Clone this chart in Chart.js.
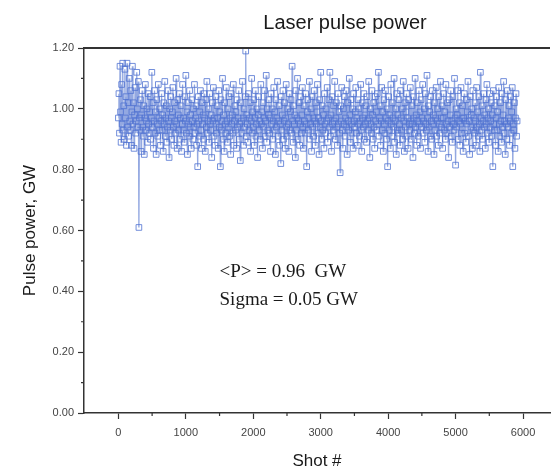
<!DOCTYPE html>
<html>
<head>
<meta charset="utf-8">
<script src="https://cdn.jsdelivr.net/npm/chart.js@4"></script>
<style>
  html, body { margin: 0; padding: 0; background: #fff; }
</style>
</head>
<body>
<canvas id="pulseChart" width="555" height="476"></canvas>
<script>
// one value every SHOT_STEP shots
var SHOT_STEP = 8;
var power = [
    0.97, 1.05, 0.92, 1.14, 0.99, 0.89, 1.08, 0.95, 1.15, 0.93, 1.01, 0.90, 1.13, 0.97, 1.04, 0.88, 1.15, 0.94, 1.02, 0.91,
    1.10, 0.96, 0.93, 1.06, 0.88, 0.99, 1.14, 0.95, 1.02, 0.87, 0.98, 1.07, 0.92, 0.96, 1.12, 1.00, 0.94, 1.09, 0.61, 0.97,
    0.93, 1.03, 0.86, 0.98, 1.06, 0.94, 0.91, 1.01, 0.85, 0.97, 1.08, 0.93, 0.96, 1.00, 0.89, 1.05, 0.95, 0.92, 0.99, 1.04,
    0.90, 0.97, 1.12, 0.94, 1.02, 0.87, 0.96, 1.06, 0.92, 0.99, 0.85, 1.03, 0.95, 0.91, 1.08, 0.97, 0.93, 1.00, 0.88, 0.96,
    1.05, 0.93, 0.98, 0.86, 1.02, 0.95, 1.09, 0.91, 0.97, 1.01, 0.89, 0.94, 1.06, 0.96, 0.84, 1.00, 0.93, 1.04, 0.97, 0.90,
    0.99, 1.07, 0.94, 0.88, 1.02, 0.96, 0.92, 1.10, 0.95, 0.87, 1.03, 0.98, 0.93, 1.05, 0.90, 0.97, 1.01, 0.86, 0.95, 1.08,
    0.93, 0.97, 0.89, 1.04, 0.96, 1.11, 0.92, 0.99, 0.85, 1.02, 0.95, 0.91, 1.06, 0.94, 0.98, 0.87, 1.03, 0.96, 0.90, 1.00,
    0.94, 1.08, 0.92, 0.97, 1.01, 0.88, 0.95, 0.81, 1.04, 0.96, 0.91, 0.99, 1.06, 0.93, 0.87, 1.02, 0.95, 0.98, 0.90, 1.05,
    0.97, 0.86, 1.03, 0.94, 1.09, 0.92, 0.96, 1.00, 0.89, 1.05, 0.95, 0.93, 0.98, 0.84, 1.02, 0.96, 1.07, 0.91, 0.97, 0.88,
    1.04, 0.95, 0.92, 1.01, 0.97, 0.87, 1.06, 0.94, 0.99, 0.81, 1.03, 0.93, 0.96, 1.10, 0.90, 0.98, 0.86, 1.02, 0.95, 0.92,
    1.07, 0.96, 0.89, 1.00, 0.94, 1.04, 0.91, 0.97, 0.85, 1.05, 0.95, 0.98, 0.92, 1.08, 0.88, 0.96, 1.01, 0.93, 0.99, 0.87,
    1.03, 0.94, 0.97, 1.06, 0.90, 0.95, 0.83, 1.02, 0.96, 0.92, 1.09, 0.97, 0.88, 1.00, 0.94, 1.04, 1.19, 0.91, 0.98, 0.95,
    0.89, 1.05, 0.93, 0.97, 1.02, 0.86, 0.96, 1.10, 0.92, 0.99, 0.94, 1.03, 0.88, 0.97, 1.06, 0.91, 0.95, 1.00, 0.84, 0.98,
    1.04, 0.93, 0.96, 0.90, 1.08, 0.95, 0.99, 0.87, 1.02, 0.94, 0.97, 1.06, 0.91, 0.96, 1.11, 0.89, 1.00, 0.93, 0.98, 1.03,
    0.92, 0.97, 0.86, 1.05, 0.95, 1.00, 0.90, 0.96, 1.07, 0.93, 0.99, 0.85, 1.03, 0.94, 0.97, 1.09, 0.91, 0.96, 1.01, 0.88,
    0.95, 0.82, 1.04, 0.93, 0.98, 1.06, 0.90, 0.96, 1.02, 0.87, 0.97, 1.08, 0.94, 0.91, 1.00, 0.95, 0.86, 1.05, 0.93, 0.99,
    1.03, 0.92, 1.14, 0.96, 0.89, 1.01, 0.95, 0.98, 0.84, 1.06, 0.93, 0.97, 1.10, 0.90, 0.96, 1.02, 0.88, 0.95, 1.04, 0.92,
    0.98, 1.07, 0.94, 0.87, 1.01, 0.96, 0.92, 1.05, 0.95, 0.81, 0.99, 1.03, 0.93, 0.97, 1.09, 0.90, 0.95, 1.00, 0.86, 1.04,
    0.94, 0.97, 0.91, 1.06, 0.96, 0.88, 1.02, 0.95, 0.99, 1.08, 0.92, 0.97, 0.85, 1.03, 0.94, 1.12, 0.96, 0.90, 1.01, 0.93,
    0.98, 0.87, 1.05, 0.95, 0.92, 1.00, 0.96, 1.07, 0.89, 0.97, 1.03, 0.94, 1.12, 0.91, 0.98, 0.86, 1.04, 0.95, 0.93, 1.01,
    0.96, 1.09, 0.90, 0.97, 1.02, 0.94, 0.88, 1.05, 0.95, 0.99, 0.92, 0.79, 1.01, 0.96, 1.07, 0.93, 0.87, 1.00, 0.95, 1.04,
    0.91, 0.97, 1.06, 0.94, 0.85, 1.02, 0.96, 0.93, 1.10, 0.98, 0.89, 1.03, 0.95, 0.92, 1.00, 0.87, 1.05, 0.96, 0.94, 0.99,
    1.07, 0.92, 0.97, 0.88, 1.03, 0.95, 1.00, 0.91, 0.96, 1.08, 0.93, 0.86, 1.02, 0.97, 0.94, 1.05, 0.90, 0.98, 0.95, 1.01,
    0.89, 1.04, 0.96, 0.93, 1.09, 0.97, 0.84, 1.00, 0.95, 0.92, 1.06, 0.98, 0.90, 1.02, 0.94, 0.87, 1.04, 0.96, 0.99, 0.93,
    1.05, 0.95, 1.12, 0.91, 0.97, 1.01, 0.88, 0.96, 1.07, 0.93, 0.99, 0.86, 1.03, 0.95, 0.92, 1.06, 0.97, 0.90, 1.00, 0.81,
    0.96, 1.04, 0.93, 0.98, 0.87, 1.08, 0.95, 0.91, 1.02, 0.97, 0.94, 1.10, 0.89, 0.96, 1.00, 0.85, 1.05, 0.93, 0.98, 0.92,
    1.03, 0.95, 0.88, 1.06, 0.97, 0.93, 1.00, 0.90, 1.09, 0.96, 0.86, 1.02, 0.94, 0.99, 1.05, 0.91, 0.97, 0.87, 1.03, 0.95,
    0.93, 1.07, 0.96, 0.90, 1.01, 0.95, 0.84, 1.04, 0.97, 0.92, 1.10, 0.94, 0.98, 0.88, 1.02, 0.96, 0.91, 1.06, 0.95, 0.99,
    0.87, 1.03, 0.94, 0.97, 1.08, 0.92, 0.96, 1.00, 0.89, 1.05, 0.95, 0.93, 1.11, 0.97, 0.86, 1.01, 0.94, 0.99, 0.91, 1.04,
    0.96, 0.90, 1.06, 0.95, 0.98, 0.85, 1.02, 0.93, 0.97, 1.07, 0.91, 0.96, 1.00, 0.88, 1.04, 0.95, 0.92, 1.09, 0.97, 0.94,
    1.01, 0.87, 0.97, 1.05, 0.93, 0.99, 0.90, 1.08, 0.95, 0.92, 1.02, 0.96, 0.84, 1.03, 0.94, 0.98, 1.06, 0.91, 0.96, 0.89,
    1.04, 0.95, 0.93, 1.10, 0.97, 0.815, 1.00, 0.94, 0.98, 1.06, 0.90, 0.96, 1.02, 0.88, 0.95, 1.07, 0.92, 0.97, 1.01, 0.86,
    0.97, 1.05, 0.92, 0.96, 0.89, 1.03, 0.95, 0.99, 1.09, 0.91, 0.96, 0.85, 1.04, 0.94, 0.98, 1.00, 0.87, 1.06, 0.93, 0.97,
    0.92, 1.02, 0.96, 0.88, 1.07, 0.94, 0.99, 0.91, 1.04, 0.95, 0.86, 1.12, 0.97, 0.93, 1.01, 0.90, 0.96, 1.05, 0.94, 0.98,
    0.87, 1.03, 0.95, 1.08, 0.92, 0.97, 1.00, 0.89, 1.05, 0.94, 0.96, 1.02, 0.91, 0.98, 0.81, 1.06, 0.95, 0.93, 1.01, 0.88,
    0.97, 1.04, 0.93, 0.99, 0.86, 1.07, 0.95, 0.91, 1.02, 0.96, 0.89, 1.05, 0.94, 0.98, 1.09, 0.92, 0.96, 0.85, 1.03, 0.95,
    0.90, 1.06, 0.94, 0.97, 1.01, 0.88, 0.96, 1.04, 0.92, 0.99, 1.07, 0.81, 0.95, 0.93, 1.02, 0.87, 0.97, 1.05, 0.91, 0.96
];
var xTicks = [0, 1000, 2000, 3000, 4000, 5000, 6000];
var xMinor = [500, 1500, 2500, 3500, 4500, 5500];
var yMinor = [0.1, 0.3, 0.5, 0.7, 0.9, 1.1];
var statLines = ["<P> = 0.96  GW", "Sigma = 0.05 GW"];

var points = power.map(function (v, i) { return { x: i * SHOT_STEP, y: v }; });

var decor = {
    id: "decor",
    afterDraw: function (chart) {
        var ctx = chart.ctx, a = chart.chartArea;
        var xs = chart.scales.x, ys = chart.scales.y;
        ctx.save();
        // top frame line
        ctx.strokeStyle = "#333";
        ctx.lineWidth = 2;
        ctx.beginPath();
        ctx.moveTo(a.left, a.top);
        ctx.lineTo(a.right, a.top);
        ctx.stroke();
        // minor ticks
        ctx.lineWidth = 1.2;
        ctx.beginPath();
        xMinor.forEach(function (v) {
            var px = xs.getPixelForValue(v);
            ctx.moveTo(px, a.bottom);
            ctx.lineTo(px, a.bottom + 3);
        });
        yMinor.forEach(function (v) {
            var py = ys.getPixelForValue(v);
            ctx.moveTo(a.left, py);
            ctx.lineTo(a.left - 3, py);
        });
        ctx.stroke();
        // title
        ctx.fillStyle = "#1a1a1a";
        ctx.font = "20px 'Liberation Sans', Arial, sans-serif";
        ctx.textAlign = "center";
        ctx.textBaseline = "middle";
        ctx.fillText("Laser pulse power", 345, 23);
        // statistics text
        ctx.font = "19px 'Liberation Serif', 'Times New Roman', serif";
        ctx.textAlign = "left";
        ctx.fillText(statLines[0], xs.getPixelForValue(1500), ys.getPixelForValue(0.463));
        ctx.fillText(statLines[1], xs.getPixelForValue(1500), ys.getPixelForValue(0.372));
        ctx.restore();
    }
};

new Chart("pulseChart", {
    type: "scatter",
    data: {
        datasets: [{
            data: points,
            showLine: true,
            borderWidth: 1.3,
            borderColor: "rgba(40, 82, 196, 0.5)",
            pointStyle: "rect",
            pointRadius: 4,
            pointBorderWidth: 1,
            pointBorderColor: "rgba(80, 115, 210, 0.8)",
            pointBackgroundColor: "rgba(0,0,0,0)"
        }]
    },
    options: {
        responsive: false,
        animation: false,
        layout: { padding: { top: 48, right: 0, left: 0, bottom: 0 } },
        plugins: {
            legend: { display: false },
            tooltip: { enabled: false }
        },
        scales: {
            x: {
                type: "linear",
                min: -510,
                max: 6400,
                afterBuildTicks: function (s) {
                    s.ticks = xTicks.map(function (v) { return { value: v }; });
                },
                afterFit: function (s) { s.height = 63; },
                ticks: {
                    color: "#444",
                    font: { size: 11, family: "'Liberation Sans', Arial, sans-serif" },
                    padding: 7,
                    callback: function (v) { return String(v); }
                },
                grid: { drawOnChartArea: false, tickLength: 6, tickColor: "#333", tickWidth: 1.2 },
                border: { color: "#333", width: 1.5 },
                title: {
                    display: true,
                    text: "Shot #",
                    color: "#1a1a1a",
                    font: { size: 17, family: "'Liberation Sans', Arial, sans-serif" },
                    padding: { top: 0, bottom: 4 }
                }
            },
            y: {
                min: 0,
                max: 1.2,
                afterFit: function (s) { s.width = 84; },
                ticks: {
                    stepSize: 0.2,
                    color: "#444",
                    font: { size: 11, family: "'Liberation Sans', Arial, sans-serif" },
                    padding: 4,
                    callback: function (v) { return v.toFixed(2); }
                },
                grid: { drawOnChartArea: false, tickLength: 6, tickColor: "#333", tickWidth: 1.2 },
                border: { color: "#333", width: 1.5 },
                title: {
                    display: true,
                    text: "Pulse power, GW",
                    color: "#1a1a1a",
                    font: { size: 17, family: "'Liberation Sans', Arial, sans-serif" },
                    padding: { top: 20, bottom: 0 }
                }
            }
        }
    },
    plugins: [decor]
});
</script>
</body>
</html>
